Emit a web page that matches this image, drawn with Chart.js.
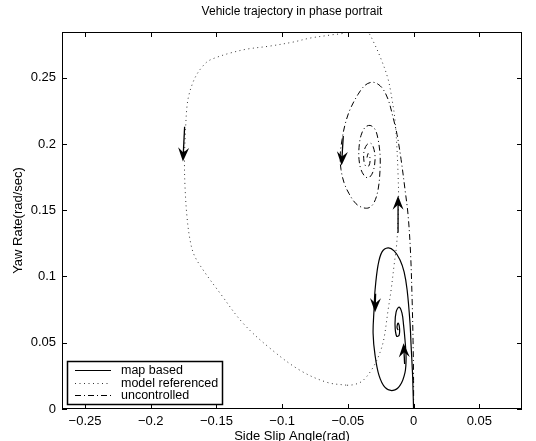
<!DOCTYPE html>
<html lang="en">
<head>
<meta charset="UTF-8">
<title>Vehicle trajectory in phase portrait</title>
<script src="https://cdn.jsdelivr.net/npm/chart.js@4"></script>
<style>
  body { margin: 0; background: #fff; }
  #wrap { width: 536px; height: 441px; }
</style>
</head>
<body>
<div id="wrap"><canvas id="phaseChart" width="536" height="441"></canvas></div>
<script>
// values (side slip angle in rad, yaw rate in rad/sec)
const mapBasedX = [0, -0.0004, -0.0008, -0.0019, -0.0027, -0.0049, -0.0072, -0.0103, -0.0148, -0.0194,
  -0.0240, -0.0270, -0.0293, -0.0301, -0.0308, -0.0293, -0.0263, -0.0217, -0.0156, -0.0103,
  -0.0065, -0.0057, -0.0065, -0.0076, -0.0088, -0.0110, -0.0133, -0.0141, -0.0129, -0.0110,
  -0.0107, -0.0118, -0.0126, -0.0118];
const mapBasedY = [0, 0.0140, 0.0269, 0.0481, 0.0648, 0.0898, 0.1034, 0.1125, 0.1193, 0.1216,
  0.1186, 0.1087, 0.0898, 0.0746, 0.0572, 0.0405, 0.0254, 0.0163, 0.0140, 0.0178,
  0.0277, 0.0390, 0.0519, 0.0633, 0.0723, 0.0769, 0.0731, 0.0633, 0.0549, 0.0557,
  0.0610, 0.0648, 0.0617, 0.0595];

const modelRefX = [-0.0506, -0.0445, -0.0384, -0.0308, -0.0255, -0.0225, -0.0194, -0.0171, -0.0148, -0.0129,
  -0.0118, -0.0114, -0.0118, -0.0126, -0.0141, -0.0164, -0.0194, -0.0247, -0.0308, -0.0346,
  -0.0400, -0.0453, -0.0506, -0.0635, -0.0788, -0.0917, -0.1092, -0.1267, -0.1396, -0.1495,
  -0.1564, -0.1610, -0.1648, -0.1678, -0.1708, -0.1724, -0.1735, -0.1743, -0.1739, -0.1724,
  -0.1701, -0.1670, -0.1601, -0.1473, -0.1298, -0.1092, -0.0864, -0.0658, -0.0506];
const modelRefY = [0.0179, 0.0186, 0.0216, 0.0314, 0.0428, 0.0534, 0.0746, 0.0898, 0.1087, 0.1239,
  0.1428, 0.1602, 0.1769, 0.1958, 0.2178, 0.2337, 0.2489, 0.2640, 0.2777, 0.2845,
  0.2898, 0.2905, 0.2845, 0.2822, 0.2799, 0.2769, 0.2739, 0.2716, 0.2686, 0.2655,
  0.2625, 0.2580, 0.2527, 0.2466, 0.2375, 0.2284, 0.2110, 0.1883, 0.1678, 0.1451,
  0.1277, 0.1163, 0.1049, 0.0875, 0.0648, 0.0458, 0.0292, 0.0201, 0.0179];

const uncontrolledX = [0, 0, -0.0004, -0.0011, -0.0023, -0.0042, -0.0065, -0.0095, -0.0126, -0.0156,
  -0.0194, -0.0232, -0.0270, -0.0316, -0.0369, -0.0422, -0.0483, -0.0521, -0.0544, -0.0559,
  -0.0552, -0.0529, -0.0491, -0.0438, -0.0384, -0.0339, -0.0301, -0.0270, -0.0255, -0.0255,
  -0.0270, -0.0293, -0.0331, -0.0369, -0.0400, -0.0415, -0.0415, -0.0400, -0.0369, -0.0339,
  -0.0308, -0.0293, -0.0301, -0.0323, -0.0354, -0.0377, -0.0377, -0.0361, -0.0339, -0.0331,
  -0.0346, -0.0354];
const uncontrolledY = [0, 0.0216, 0.0519, 0.0822, 0.1178, 0.1466, 0.1655, 0.1883, 0.2072, 0.2201,
  0.2337, 0.2413, 0.2451, 0.2466, 0.2443, 0.2375, 0.2261, 0.2148, 0.2034, 0.1905,
  0.1807, 0.1708, 0.1625, 0.1549, 0.1519, 0.1519, 0.1557, 0.1655, 0.1807, 0.1920,
  0.2034, 0.2110, 0.2140, 0.2125, 0.2064, 0.1973, 0.1883, 0.1807, 0.1754, 0.1746,
  0.1792, 0.1883, 0.1958, 0.2004, 0.1996, 0.1943, 0.1867, 0.1830, 0.1837, 0.1890,
  0.1928, 0.1898];

// arrows: tail and tip, in data units
const arrowTailX = [-0.1742, -0.0118, -0.0535, -0.0289, -0.0068];
const arrowTailY = [0.2130, 0.1330, 0.2060, 0.0870, 0.0340];
const arrowTipX  = [-0.1755, -0.0118, -0.0548, -0.0293, -0.0076];
const arrowTipY  = [0.1867, 0.1610, 0.1837, 0.0731, 0.0496];

const seriesNames = ['map based', 'model referenced', 'uncontrolled'];
const xTickValues = [-0.25, -0.2, -0.15, -0.1, -0.05, 0, 0.05];
const xTickLabels = ['\u22120.25', '\u22120.2', '\u22120.15', '\u22120.1', '\u22120.05', '0', '0.05'];
const yTickValues = [0, 0.05, 0.1, 0.15, 0.2, 0.25];
const yTickLabels = ['0', '0.05', '0.1', '0.15', '0.2', '0.25'];

const FONT = '"Liberation Sans", Arial, Helvetica, sans-serif';
const lineStyles = [
  { color: '#000', width: 1.2, dash: [] },
  { color: '#333', width: 1, dash: [1, 3.5] },
  { color: '#000', width: 1, dash: [6, 3, 1, 3] }
];

function points(xs, ys) {
  return xs.map((v, i) => ({ x: v, y: ys[i] }));
}

function makeSet(i, xs, ys) {
  return {
    label: seriesNames[i],
    data: points(xs, ys),
    showLine: true,
    borderColor: lineStyles[i].color,
    borderWidth: lineStyles[i].width,
    borderDash: lineStyles[i].dash,
    pointRadius: 0,
    tension: 0.35,
    fill: false
  };
}

const framePlugin = {
  id: 'frame',
  afterDatasetsDraw(chart) {
    const { ctx, scales: { x, y } } = chart;
    ctx.save();
    // arrows (shaft + barbed head)
    ctx.fillStyle = '#000';
    ctx.strokeStyle = '#000';
    ctx.lineWidth = 1.3;
    for (let i = 0; i < arrowTipX.length; i++) {
      const x0 = x.getPixelForValue(arrowTailX[i]), y0 = y.getPixelForValue(arrowTailY[i]);
      const x1 = x.getPixelForValue(arrowTipX[i]), y1 = y.getPixelForValue(arrowTipY[i]);
      const ang = Math.atan2(y1 - y0, x1 - x0);
      const c = Math.cos(ang), s = Math.sin(ang);
      ctx.beginPath();
      ctx.moveTo(x0, y0);
      ctx.lineTo(x1 - 8 * c, y1 - 8 * s);
      ctx.stroke();
      const L = 14, W = 5.5, N = 9;
      ctx.beginPath();
      ctx.moveTo(x1, y1);
      ctx.lineTo(x1 - L * c + W * s, y1 - L * s - W * c);
      ctx.lineTo(x1 - N * c, y1 - N * s);
      ctx.lineTo(x1 - L * c - W * s, y1 - L * s + W * c);
      ctx.closePath();
      ctx.fill();
    }
    ctx.restore();
  },
  afterDraw(chart) {
    const { ctx, chartArea: a, scales: { x, y } } = chart;
    ctx.save();
    ctx.strokeStyle = '#000';
    ctx.lineWidth = 1;
    ctx.strokeRect(Math.round(a.left) + 0.5, Math.round(a.top) + 0.5,
      Math.round(a.right - a.left) - 1, Math.round(a.bottom - a.top) - 1);
    // inward tick marks on all four sides
    const tl = 5;
    ctx.beginPath();
    xTickValues.forEach(v => {
      const px = Math.round(x.getPixelForValue(v)) + 0.5;
      ctx.moveTo(px, a.bottom); ctx.lineTo(px, a.bottom - tl);
      ctx.moveTo(px, a.top); ctx.lineTo(px, a.top + tl);
    });
    yTickValues.forEach(v => {
      const py = Math.round(y.getPixelForValue(v)) + 0.5;
      ctx.moveTo(a.left, py); ctx.lineTo(a.left + tl, py);
      ctx.moveTo(a.right, py); ctx.lineTo(a.right - tl, py);
    });
    ctx.stroke();

    // titles
    ctx.fillStyle = '#000';
    ctx.textAlign = 'center';
    ctx.textBaseline = 'middle';
    ctx.font = '12px ' + FONT;
    ctx.fillText('Vehicle trajectory in phase portrait', (a.left + a.right) / 2, 12);
    ctx.font = '13px ' + FONT;
    ctx.fillText('Side Slip Angle(rad)', (a.left + a.right) / 2, 436);
    ctx.save();
    ctx.translate(18, (a.top + a.bottom) / 2);
    ctx.rotate(-Math.PI / 2);
    ctx.fillText('Yaw Rate(rad/sec)', 0, 0);
    ctx.restore();

    // legend box in lower left corner
    const bx = 67, by = 361, bw = 155, bh = 43;
    ctx.fillStyle = '#fff';
    ctx.fillRect(bx, by, bw, bh);
    ctx.lineWidth = 1.5;
    ctx.strokeRect(bx + 0.5, by + 0.5, bw, bh);
    ctx.font = '12.5px ' + FONT;
    ctx.textAlign = 'left';
    seriesNames.forEach((name, i) => {
      const ry = by + 9 + i * 12.5;
      ctx.beginPath();
      ctx.setLineDash(lineStyles[i].dash);
      ctx.strokeStyle = lineStyles[i].color;
      ctx.lineWidth = lineStyles[i].width;
      ctx.moveTo(75, Math.round(ry) + 0.5);
      ctx.lineTo(111, Math.round(ry) + 0.5);
      ctx.stroke();
      ctx.setLineDash([]);
      ctx.fillStyle = '#000';
      ctx.fillText(name, 121, ry + 1);
    });
    ctx.restore();
  }
};

Chart.defaults.font.family = FONT;
Chart.defaults.color = '#000';

new Chart(document.getElementById('phaseChart'), {
  type: 'scatter',
  data: {
    datasets: [
      makeSet(0, mapBasedX, mapBasedY),
      makeSet(1, modelRefX, modelRefY),
      makeSet(2, uncontrolledX, uncontrolledY)
    ]
  },
  options: {
    responsive: false,
    animation: false,
    devicePixelRatio: 1,
    layout: { padding: { top: 32, right: 14, left: 0, bottom: 0 } },
    plugins: {
      legend: { display: false },
      title: { display: false },
      tooltip: { enabled: false }
    },
    scales: {
      x: {
        type: 'linear',
        min: -0.2675,
        max: 0.0825,
        grid: { display: false, drawTicks: false },
        border: { display: false },
        afterBuildTicks: s => { s.ticks = xTickValues.map(v => ({ value: v })); },
        afterFit: s => { s.height = 32; },
        ticks: {
          padding: 5,
          maxRotation: 0,
          autoSkip: false,
          font: { size: 13 },
          callback: (v) => xTickLabels[xTickValues.findIndex(t => Math.abs(t - v) < 1e-9)]
        }
      },
      y: {
        type: 'linear',
        min: 0,
        max: 0.2845,
        grid: { display: false, drawTicks: false },
        border: { display: false },
        afterBuildTicks: s => { s.ticks = yTickValues.map(v => ({ value: v })); },
        afterFit: s => { s.width = 62; },
        ticks: {
          padding: 6,
          autoSkip: false,
          font: { size: 13 },
          callback: (v) => yTickLabels[yTickValues.findIndex(t => Math.abs(t - v) < 1e-9)]
        }
      }
    }
  },
  plugins: [framePlugin]
});
</script>
</body>
</html>
